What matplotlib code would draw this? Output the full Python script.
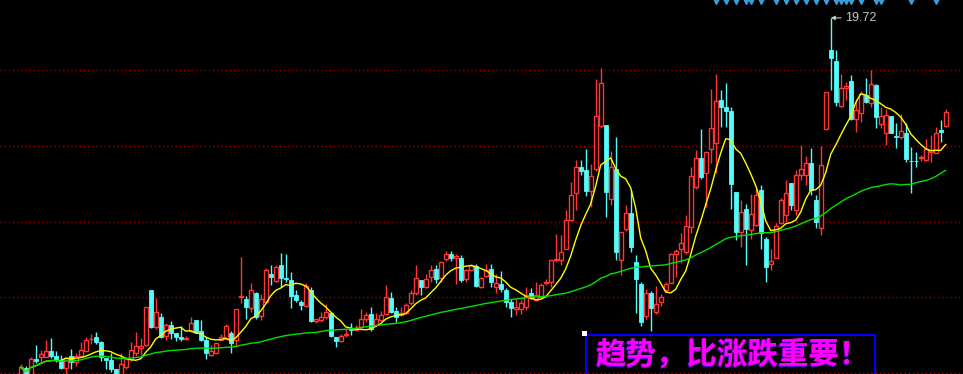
import numpy as np
import pandas as pd
import matplotlib
matplotlib.use("Agg")
import matplotlib.pyplot as plt
from matplotlib.patches import Rectangle
from matplotlib import transforms

plt.rcParams['font.family'] = ['Noto Sans CJK SC', 'DejaVu Sans']

# daily candles, oldest first
opens = [7.90, 8.17, 7.93, 8.45, 8.52, 8.54, 8.74, 8.56, 8.43, 8.17,
         8.56, 8.35, 8.56, 8.74, 9.13, 9.19, 9.02, 8.50, 8.43, 8.14,
         7.90, 8.21, 8.47, 8.65, 8.83, 8.92, 10.74, 9.53, 9.84, 9.23,
         9.58, 9.31, 9.18, 9.13, 9.40, 9.74, 9.40, 9.09, 8.59, 8.65,
         9.09, 9.14, 9.31, 9.09, 10.50, 10.44, 10.14, 10.65, 9.88, 10.36,
         11.28, 11.04, 11.55, 11.14, 11.06, 10.57, 10.33, 10.21, 10.74, 9.72,
         9.74, 9.84, 9.97, 9.20, 9.07, 9.25, 9.46, 9.42, 9.51, 9.80,
         9.95, 9.58, 9.74, 9.95, 10.47, 10.05, 9.91, 9.99, 10.30, 10.65,
         11.06, 10.83, 11.17, 11.42, 11.15, 11.78, 11.92, 11.79, 11.81, 11.09,
         11.41, 11.52, 10.85, 11.19, 11.44, 10.85, 10.93, 10.74, 10.36, 10.10,
         10.10, 10.19, 10.63, 10.41, 10.51, 10.98, 11.01, 11.74, 11.72, 12.11,
         13.04, 13.93, 14.79, 14.70, 14.01, 14.72, 16.15, 16.18, 13.76, 14.72,
         11.74, 12.77, 13.29, 11.66, 10.93, 9.88, 10.63, 10.02, 10.36, 10.74,
         10.98, 11.94, 12.11, 12.00, 12.83, 14.13, 15.09, 14.59, 15.38, 15.60,
         17.00, 16.79, 16.66, 13.98, 12.66, 13.43, 12.71, 12.88, 14.04, 12.44,
         11.61, 11.81, 12.95, 13.21, 14.27, 13.37, 14.53, 14.53, 14.93, 13.71,
         12.79, 16.04, 18.65, 18.29, 16.81, 17.39, 17.64, 16.37, 16.59, 17.17,
         16.90, 17.50, 16.22, 15.91, 16.48, 15.82, 15.78, 15.93, 15.01, 15.01,
         15.09, 15.03, 15.30, 15.27, 16.02, 16.15]
highs = [8.30, 8.24, 8.53, 8.92, 8.76, 9.09, 9.16, 8.73, 8.59, 8.53,
         8.79, 8.67, 9.02, 9.19, 9.29, 9.35, 9.06, 8.50, 8.67, 8.14,
         8.67, 8.54, 9.02, 9.35, 9.16, 10.19, 10.74, 10.47, 9.98, 9.64,
         9.71, 9.31, 9.55, 9.22, 9.84, 9.74, 9.74, 9.20, 8.92, 9.00,
         9.29, 9.62, 9.40, 10.10, 11.83, 10.54, 10.98, 10.68, 10.61, 11.48,
         11.55, 11.55, 11.96, 11.94, 11.33, 10.74, 10.41, 10.96, 10.83, 9.80,
         10.02, 10.28, 10.02, 9.20, 9.28, 9.47, 9.66, 9.60, 10.10, 10.02,
         10.19, 9.99, 10.05, 10.90, 10.66, 10.19, 10.19, 10.30, 10.74, 11.55,
         11.06, 11.28, 11.55, 11.55, 11.70, 12.03, 12.03, 11.92, 11.88, 11.44,
         11.61, 11.61, 11.17, 11.60, 11.61, 11.28, 11.37, 10.80, 10.44, 10.44,
         10.41, 10.83, 10.80, 11.01, 10.98, 11.12, 11.74, 12.58, 12.55, 13.37,
         14.31, 15.03, 15.03, 15.38, 14.90, 17.71, 18.05, 16.18, 15.34, 15.78,
         12.64, 13.54, 14.04, 11.88, 11.01, 10.76, 10.71, 10.87, 10.61, 11.01,
         11.96, 12.11, 12.63, 13.21, 14.79, 15.36, 16.05, 15.31, 17.36, 17.86,
         17.33, 17.57, 16.77, 13.98, 13.72, 13.57, 13.90, 14.06, 14.20, 12.50,
         12.08, 12.95, 13.79, 14.37, 14.28, 14.70, 15.52, 15.16, 15.43, 13.87,
         15.49, 17.28, 19.72, 18.67, 17.88, 17.60, 17.82, 17.04, 17.31, 17.75,
         18.01, 17.53, 16.79, 16.70, 16.48, 16.26, 16.55, 16.26, 15.47, 15.31,
         15.20, 15.71, 15.85, 16.13, 16.35, 16.70]
lows = [7.84, 7.84, 7.90, 8.33, 8.33, 8.52, 8.50, 8.36, 8.15, 7.97,
        8.13, 8.23, 8.52, 8.73, 8.96, 8.96, 8.41, 8.12, 8.02, 7.87,
        7.87, 8.13, 8.41, 8.56, 8.60, 8.89, 9.49, 9.47, 9.16, 9.09,
        9.14, 9.07, 9.07, 9.09, 9.36, 9.31, 9.07, 8.46, 8.56, 8.65,
        9.09, 9.12, 8.65, 8.89, 10.30, 9.79, 10.02, 9.80, 9.74, 10.30,
        10.90, 11.01, 10.85, 11.01, 10.14, 10.36, 10.08, 10.19, 9.69, 9.66,
        9.69, 9.80, 9.20, 8.87, 9.03, 9.20, 9.25, 9.40, 9.47, 9.69,
        9.40, 9.55, 9.72, 9.91, 9.97, 9.69, 9.88, 9.95, 10.24, 10.57,
        10.57, 10.80, 11.01, 10.98, 11.01, 11.70, 11.70, 10.93, 11.01, 11.01,
        11.37, 10.85, 10.80, 11.17, 10.85, 10.63, 10.68, 10.17, 9.86, 9.91,
        9.95, 10.08, 10.44, 10.39, 10.50, 10.90, 10.83, 11.66, 11.55, 12.08,
        13.02, 13.37, 14.53, 13.84, 13.48, 14.67, 16.08, 13.16, 13.54, 11.72,
        11.23, 12.69, 12.00, 9.99, 9.55, 9.77, 9.40, 9.95, 10.21, 10.68,
        10.96, 11.17, 11.63, 11.94, 12.61, 14.06, 14.39, 13.48, 14.92, 14.59,
        16.13, 16.13, 13.43, 12.39, 12.16, 11.55, 12.44, 12.85, 12.11, 11.01,
        11.41, 11.81, 12.93, 12.98, 13.37, 13.21, 14.37, 14.20, 13.87, 12.79,
        12.55, 16.04, 17.33, 16.81, 16.78, 17.00, 16.35, 15.96, 16.29, 16.90,
        16.79, 16.08, 16.08, 15.51, 15.91, 15.42, 15.74, 14.97, 13.93, 14.81,
        15.01, 15.01, 14.97, 15.25, 15.63, 16.13]
closes = [8.19, 7.90, 8.46, 8.41, 8.63, 8.73, 8.56, 8.46, 8.17, 8.50,
          8.35, 8.56, 8.75, 9.09, 9.14, 9.02, 8.54, 8.44, 8.12, 7.90,
          8.29, 8.45, 8.76, 8.89, 8.91, 10.17, 9.53, 10.02, 9.18, 9.58,
          9.31, 9.18, 9.12, 9.16, 9.64, 9.36, 9.09, 8.65, 8.74, 9.00,
          9.20, 9.55, 8.98, 10.10, 10.54, 10.19, 10.74, 9.84, 10.44, 11.41,
          11.17, 11.50, 11.15, 11.09, 10.55, 10.41, 10.24, 10.87, 9.72, 9.80,
          9.84, 10.02, 9.23, 9.07, 9.22, 9.29, 9.42, 9.49, 9.80, 9.91,
          9.44, 9.78, 9.91, 10.50, 10.02, 9.84, 9.99, 10.24, 10.65, 11.15,
          10.83, 11.12, 11.39, 11.12, 11.66, 11.94, 11.81, 11.85, 11.06, 11.39,
          11.55, 10.87, 11.15, 11.41, 11.01, 10.96, 10.76, 10.36, 10.14, 10.19,
          10.30, 10.57, 10.47, 10.57, 10.90, 11.01, 11.74, 11.78, 12.00, 13.04,
          13.87, 14.79, 14.67, 14.01, 14.50, 16.48, 17.58, 13.98, 14.81, 12.00,
          12.64, 13.28, 12.16, 11.09, 9.69, 10.63, 10.14, 10.27, 10.50, 10.93,
          11.92, 12.03, 12.30, 12.85, 14.50, 15.09, 14.48, 15.29, 16.08, 16.97,
          16.79, 16.66, 14.24, 12.66, 13.32, 12.74, 13.24, 13.87, 12.61, 11.50,
          11.69, 12.85, 13.72, 13.93, 13.54, 14.53, 14.73, 14.93, 14.04, 12.98,
          14.87, 17.28, 18.41, 16.94, 17.39, 17.46, 16.37, 16.68, 17.20, 16.95,
          17.53, 16.44, 16.48, 16.51, 15.91, 15.78, 16.00, 15.06, 14.99, 14.99,
          15.13, 15.38, 15.36, 15.91, 15.96, 16.62]

# days carrying a signal mark along the top edge
signal_days = [139, 141, 143, 145, 146, 148, 151, 153, 155, 157, 159,
               161, 163, 164, 165, 166, 168, 171, 172, 178, 183]

grid_levels = [8.0, 10.5, 13.0, 15.5, 18.0]
slogan = "趋势，比涨跌重要！"

UP = '#ff3434'
DOWN = '#54fcfc'

o = np.array(opens)
h = np.array(highs)
l = np.array(lows)
c = np.array(closes)
x = np.arange(len(c))
up = c >= o

ma_fast = pd.Series(c).rolling(8, min_periods=1).mean()
ma_slow = pd.Series(c).rolling(60, min_periods=1).mean()

fig = plt.figure(figsize=(9.63, 3.74), dpi=100, facecolor='black')
ax = fig.add_axes([0, 0, 1, 1])
ax.set_facecolor('black')

for lvl in grid_levels:
    ax.axhline(lvl, color='#a00000', lw=1, ls=(0, (1, 2)), zorder=1)

ax.vlines(x, l, h, colors=np.where(up, UP, DOWN), lw=1, zorder=2)
w = 0.72
ax.bar(x[~up], (o - c)[~up], bottom=c[~up], width=w, color=DOWN,
       edgecolor=DOWN, lw=0.6, zorder=3)
ax.bar(x[up], (c - o)[up], bottom=o[up], width=w, facecolor='black',
       edgecolor=UP, lw=1, zorder=3)

ax.plot(x, ma_fast, color='#ffff00', lw=1, zorder=4)
ax.plot(x, ma_slow, color='#00e000', lw=1, zorder=4)

# signal marks at the top
tr = transforms.blended_transform_factory(ax.transData, ax.transAxes)
ax.plot(signal_days, [0.997] * len(signal_days), 'v', color='#3a9fd8',
        ms=4, transform=tr, zorder=5, clip_on=True)

# highest price label
k = int(np.argmax(h))
ax.annotate(f"{h[k]:.2f}", xy=(k, h[k]), xytext=(k + 2.9, h[k]),
            color='#c8c8c8', fontsize=9, va='center', ha='left',
            family='Liberation Sans',
            arrowprops=dict(arrowstyle='-|>', color='#c8c8c8', lw=0.8,
                            shrinkA=1, shrinkB=0, mutation_scale=6))

# slogan box
ax.add_patch(Rectangle((0.6082, -0.1), 0.3004, 0.2043, transform=ax.transAxes,
                       fill=False, edgecolor='#0000ff', lw=1.5, zorder=6))
ax.add_patch(Rectangle((0.6044, 0.1029), 0.0052, 0.0134, transform=ax.transAxes,
                       facecolor='white', edgecolor='none', zorder=7))
ax.text(0.7595, 0.049, slogan, transform=ax.transAxes, color='#5500cc',
        fontsize=22, fontweight='bold', ha='center', va='center', zorder=7)
ax.text(0.7607, 0.051, slogan, transform=ax.transAxes, color='#ff00ff',
        fontsize=22, fontweight='bold', ha='center', va='center', zorder=8)

ax.set_xlim(-4.14, 188.46)
ax.set_ylim(7.97, 20.31)
ax.axis('off')

fig.savefig('out.png', dpi=100, facecolor='black')
